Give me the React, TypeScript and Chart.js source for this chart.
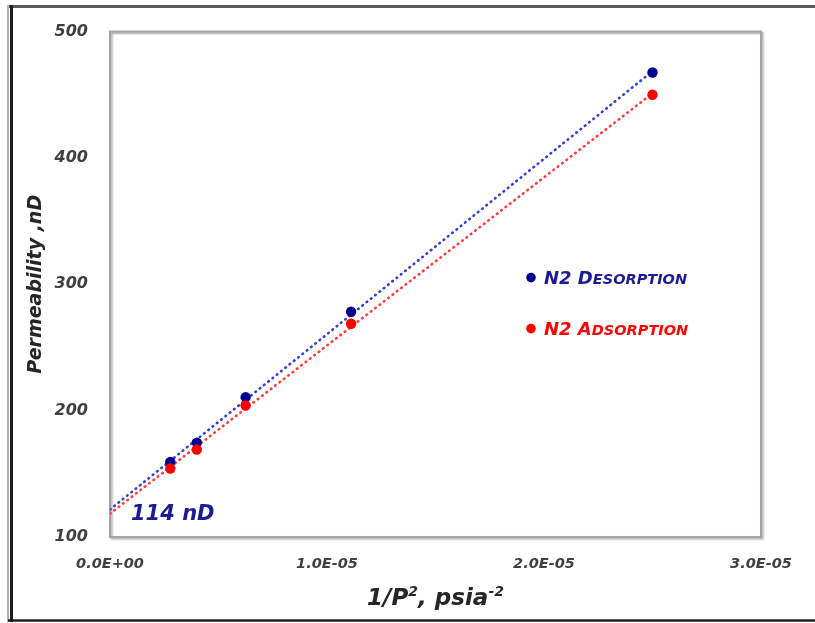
import { useEffect, useRef } from "react";
import { Chart, registerables } from "chart.js";

Chart.register(...registerables);

// 1/P² values (psia⁻²) for the five test pressures
const inversePressureSq = [2.778e-6, 4.0e-6, 6.25e-6, 1.111e-5, 2.5e-5];
// Apparent permeability, nD
const desorptionPerm = [159.4, 174.7, 210.7, 278.3, 467.6];
const adsorptionPerm = [154.2, 169.2, 204.1, 268.8, 450.0];

const xTickValues = [0, 1e-5, 2e-5, 3e-5];
const xTickLabels = ["0.0E+00", "1.0E-05", "2.0E-05", "3.0E-05"];
const yTickValues = [100, 200, 300, 400, 500];

const desorptionName = ["N2 D", "ESORPTION"];
const adsorptionName = ["N2 A", "DSORPTION"];
const interceptLabel = "114 nD";
const yAxisTitle = "Permeability ,nD";

const NAVY = "#00008f";
const NAVY_TEXT = "#1c1c92";
const RED = "#ff0000";
const FONT = "'DejaVu Sans', sans-serif";

function linearFit(xs: number[], ys: number[]) {
  const n = xs.length;
  let sx = 0, sy = 0, sxx = 0, sxy = 0;
  for (let i = 0; i < n; i++) {
    sx += xs[i];
    sy += ys[i];
    sxx += xs[i] * xs[i];
    sxy += xs[i] * ys[i];
  }
  const slope = (n * sxy - sx * sy) / (n * sxx - sx * sx);
  const intercept = (sy - slope * sx) / n;
  return { slope, intercept };
}

function trendPoints(xs: number[], ys: number[]) {
  const { slope, intercept } = linearFit(xs, ys);
  const xEnd = Math.max(...xs);
  return [
    { x: 0, y: intercept },
    { x: xEnd, y: intercept + slope * xEnd },
  ];
}

function points(xs: number[], ys: number[]) {
  return xs.map((x, i) => ({ x, y: ys[i] }));
}

// Page frame, white background and the plot-area border
const framePlugin = {
  id: "frame",
  beforeDraw(chart: any) {
    const { ctx, width, height } = chart;
    ctx.save();
    ctx.fillStyle = "#ffffff";
    ctx.fillRect(0, 0, width, height);
    ctx.lineCap = "butt";
    // top rule
    ctx.strokeStyle = "#5a5a5a";
    ctx.lineWidth = 3;
    ctx.beginPath();
    ctx.moveTo(8, 6.5);
    ctx.lineTo(width, 6.5);
    ctx.stroke();
    // left rule
    ctx.strokeStyle = "#b0b0b0";
    ctx.lineWidth = 2;
    ctx.beginPath();
    ctx.moveTo(8, 5);
    ctx.lineTo(8, 622);
    ctx.stroke();
    ctx.strokeStyle = "#1e1e1e";
    ctx.lineWidth = 3;
    ctx.beginPath();
    ctx.moveTo(11.5, 5);
    ctx.lineTo(11.5, 622);
    ctx.stroke();
    // bottom rule
    ctx.lineWidth = 2.5;
    ctx.beginPath();
    ctx.moveTo(8, 620.5);
    ctx.lineTo(width, 620.5);
    ctx.stroke();
    ctx.restore();
  },
  beforeDatasetsDraw(chart: any) {
    const { ctx, chartArea: a } = chart;
    ctx.save();
    ctx.shadowColor = "rgba(0,0,0,0.35)";
    ctx.shadowBlur = 2;
    ctx.shadowOffsetX = 1.5;
    ctx.shadowOffsetY = 1.5;
    ctx.strokeStyle = "#a3a3a3";
    ctx.lineWidth = 2;
    ctx.strokeRect(a.left, a.top, a.right - a.left, a.bottom - a.top);
    ctx.restore();
  },
};

function drawSmallCaps(ctx: CanvasRenderingContext2D, parts: string[], x: number, y: number, color: string) {
  ctx.fillStyle = color;
  ctx.textBaseline = "alphabetic";
  ctx.textAlign = "left";
  ctx.font = `italic bold 18px ${FONT}`;
  ctx.fillText(parts[0], x, y);
  const w = ctx.measureText(parts[0]).width;
  ctx.font = `italic bold 14.5px ${FONT}`;
  ctx.fillText(parts[1], x + w, y);
}

// Legend, intercept note and x-axis title with superscripts
const notesPlugin = {
  id: "notes",
  afterDraw(chart: any) {
    const { ctx, chartArea: a } = chart;
    ctx.save();

    // legend entries
    const entries = [
      { name: desorptionName, color: NAVY, text: NAVY_TEXT, dy: 246 },
      { name: adsorptionName, color: RED, text: RED, dy: 297 },
    ];
    for (const e of entries) {
      const cx = a.left + 421;
      const cy = a.top + e.dy;
      ctx.fillStyle = e.color;
      ctx.beginPath();
      ctx.arc(cx, cy, 4.8, 0, Math.PI * 2);
      ctx.fill();
      drawSmallCaps(ctx, e.name, cx + 13, cy + 6.5, e.text);
    }

    // intercept note
    ctx.fillStyle = NAVY_TEXT;
    ctx.font = `italic bold 21px ${FONT}`;
    ctx.textAlign = "left";
    ctx.textBaseline = "alphabetic";
    ctx.fillText(interceptLabel, a.left + 21, a.bottom - 17);

    // x-axis title: 1/P², psia⁻²
    const pieces = [
      { t: "1/P", size: 23, rise: 0 },
      { t: "2", size: 14, rise: 9 },
      { t: ", psia", size: 23, rise: 0 },
      { t: "-2", size: 14, rise: 9 },
    ];
    let total = 0;
    for (const p of pieces) {
      ctx.font = `italic bold ${p.size}px ${FONT}`;
      total += ctx.measureText(p.t).width;
    }
    let x = (a.left + a.right) / 2 - total / 2;
    const base = 605;
    ctx.fillStyle = "#262626";
    for (const p of pieces) {
      ctx.font = `italic bold ${p.size}px ${FONT}`;
      ctx.fillText(p.t, x, base - p.rise);
      x += ctx.measureText(p.t).width;
    }
    ctx.restore();
  },
};

export default function App() {
  const canvasRef = useRef<HTMLCanvasElement | null>(null);

  useEffect(() => {
    const canvas = canvasRef.current;
    if (!canvas) return;

    const tickFont = (size: number) => ({ family: FONT, size, style: "italic" as const, weight: "bold" as const });

    const chart = new Chart(canvas, {
      type: "scatter",
      data: {
        datasets: [
          {
            label: "N2 Adsorption",
            data: points(inversePressureSq, adsorptionPerm),
            backgroundColor: RED,
            borderColor: RED,
            pointRadius: 5.2,
            pointBorderWidth: 0,
          },
          {
            label: "N2 Desorption",
            data: points(inversePressureSq, desorptionPerm),
            backgroundColor: NAVY,
            borderColor: NAVY,
            pointRadius: 5.2,
            pointBorderWidth: 0,
          },
          {
            type: "line",
            label: "Adsorption trend",
            data: trendPoints(inversePressureSq, adsorptionPerm),
            borderColor: "#ff3c3c",
            borderWidth: 2.6,
            borderDash: [0.6, 4.9],
            borderCapStyle: "round",
            pointRadius: 0,
            fill: false,
          } as any,
          {
            type: "line",
            label: "Desorption trend",
            data: trendPoints(inversePressureSq, desorptionPerm),
            borderColor: "#3340c8",
            borderWidth: 2.6,
            borderDash: [0.6, 4.9],
            borderCapStyle: "round",
            pointRadius: 0,
            fill: false,
          } as any,
        ],
      },
      options: {
        responsive: false,
        devicePixelRatio: 1,
        animation: false,
        layout: { padding: { top: 30, right: 54, left: 0, bottom: 0 } },
        plugins: {
          legend: { display: false },
          tooltip: { enabled: false },
        },
        scales: {
          x: {
            type: "linear",
            min: 0,
            max: 3e-5,
            afterBuildTicks: (s: any) => {
              s.ticks = xTickValues.map((v) => ({ value: v }));
            },
            afterFit: (s: any) => {
              s.height = 86;
            },
            ticks: {
              callback: (_v: any, i: number) => xTickLabels[i],
              font: tickFont(14.5),
              color: "#404040",
              padding: 19,
              maxRotation: 0,
              autoSkip: false,
            },
            grid: { display: false, drawTicks: false },
            border: { display: false },
          },
          y: {
            type: "linear",
            min: 100,
            max: 500,
            afterBuildTicks: (s: any) => {
              s.ticks = yTickValues.map((v) => ({ value: v }));
            },
            afterFit: (s: any) => {
              s.width = 110;
            },
            ticks: {
              callback: (v: any) => String(v),
              font: tickFont(16),
              color: "#404040",
              padding: 22,
            },
            title: {
              display: true,
              text: yAxisTitle,
              font: { family: FONT, size: 19, style: "italic", weight: "bold" },
              color: "#262626",
              padding: { top: 25, bottom: 0 },
            },
            grid: { display: false, drawTicks: false },
            border: { display: false },
          },
        },
      } as any,
      plugins: [framePlugin, notesPlugin],
    });

    return () => chart.destroy();
  }, []);

  return (
    <div style={{ position: "absolute", left: 0, top: 0, width: 815, height: 623 }}>
      <canvas ref={canvasRef} width={815} height={623} style={{ display: "block" }} />
    </div>
  );
}
